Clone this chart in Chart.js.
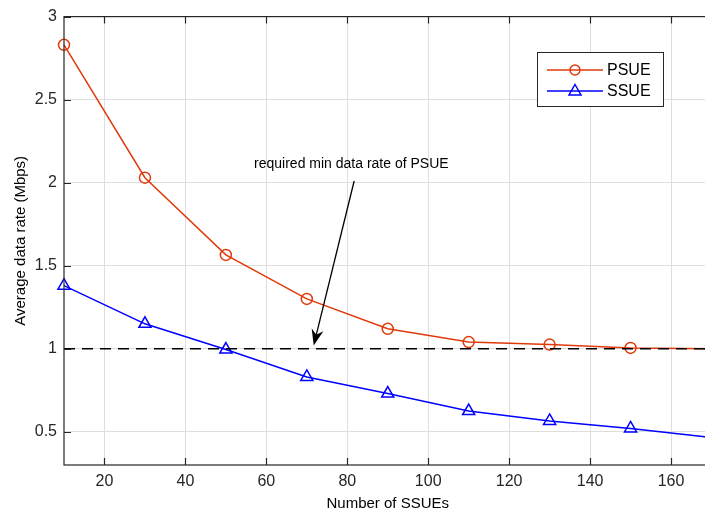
<!DOCTYPE html>
<html>
<head>
<meta charset="utf-8">
<script src="https://cdn.jsdelivr.net/npm/chart.js@4"></script>
<style>
  html, body { margin: 0; padding: 0; overflow: hidden; background: #fff; }
  #wrap { width: 720px; height: 518px; }
</style>
</head>
<body>
<div id="wrap"><canvas id="myChart" width="720" height="518"></canvas></div>
<script>
// data
var nSSUE = [10, 30, 50, 70, 90, 110, 130, 150, 170]
var psue = [2.83, 2.03, 1.565, 1.30, 1.12, 1.04, 1.025, 1.005, 1.0]
var ssue = [1.38, 1.15, 0.995, 0.83, 0.73, 0.625, 0.565, 0.52, 0.465]
var minRateX = [10, 170]
var minRate = [1, 1]
var xTicks = [20, 40, 60, 80, 100, 120, 140, 160]
var yTicks = [0.5, 1, 1.5, 2, 2.5, 3]

var font = 'Liberation Sans, Arial, sans-serif'

function pts(xs, ys) {
  var out = []
  for (let i = 0; i < xs.length; i++) out.push({ x: xs[i], y: ys[i] })
  return out
}

// the last point has no marker (curve leaves the picture)
function radii(n, r) {
  var a = []
  for (let i = 0; i < n; i++) a.push(i < n - 1 ? r : 0)
  return a
}

// frame, inward ticks, legend and the arrow note
var extras = {
  id: 'extras',
  afterDraw: function (chart) {
    var c = chart.ctx, a = chart.chartArea
    var xs = chart.scales.x, ys = chart.scales.y
    c.save()
    c.strokeStyle = '#262626'
    c.lineWidth = 1.2
    c.strokeRect(a.left, a.top, a.right - a.left, a.bottom - a.top)
    c.beginPath()
    xTicks.forEach(function (t) {
      var p = Math.round(xs.getPixelForValue(t)) + 0.5
      c.moveTo(p, a.bottom); c.lineTo(p, a.bottom - 7)
      c.moveTo(p, a.top); c.lineTo(p, a.top + 7)
    })
    yTicks.forEach(function (t) {
      var p = Math.round(ys.getPixelForValue(t)) + 0.5
      c.moveTo(a.left, p); c.lineTo(a.left + 7, p)
    })
    c.stroke()

    // legend box
    var lx = 537, ly = 52
    c.fillStyle = '#fff'
    c.fillRect(lx, ly, 126, 54)
    c.strokeStyle = '#262626'
    c.lineWidth = 1
    c.strokeRect(lx + 0.5, ly + 0.5, 126, 54)
    c.lineWidth = 1.5
    c.strokeStyle = '#e03a0a'
    c.beginPath(); c.moveTo(547, 70); c.lineTo(603, 70); c.stroke()
    c.beginPath(); c.arc(575, 70, 5, 0, Math.PI * 2); c.stroke()
    c.strokeStyle = '#0000ff'
    c.beginPath(); c.moveTo(547, 91); c.lineTo(603, 91); c.stroke()
    c.beginPath(); c.moveTo(575, 84.5); c.lineTo(581, 95); c.lineTo(569, 95); c.closePath(); c.stroke()
    c.fillStyle = '#000'
    c.font = '16px ' + font
    c.textBaseline = 'middle'
    c.textAlign = 'left'
    c.fillText('PSUE', 607, 71)
    c.fillText('SSUE', 607, 92)

    // note + arrow
    c.textAlign = 'center'
    c.font = '14px ' + font
    c.fillText('required min data rate of PSUE', xs.getPixelForValue(81), ys.getPixelForValue(2.11))
    var x0 = xs.getPixelForValue(81.7), y0 = ys.getPixelForValue(2.01)
    var x1 = xs.getPixelForValue(71.7), y1 = ys.getPixelForValue(1.02)
    var ang = Math.atan2(y1 - y0, x1 - x0)
    c.strokeStyle = '#000'
    c.lineWidth = 1.3
    c.beginPath(); c.moveTo(x0, y0); c.lineTo(x1 - 10 * Math.cos(ang), y1 - 10 * Math.sin(ang)); c.stroke()
    c.beginPath()
    c.moveTo(x1, y1)
    c.lineTo(x1 - 16 * Math.cos(ang) + 6 * Math.sin(ang), y1 - 16 * Math.sin(ang) - 6 * Math.cos(ang))
    c.lineTo(x1 - 11 * Math.cos(ang), y1 - 11 * Math.sin(ang))
    c.lineTo(x1 - 16 * Math.cos(ang) - 6 * Math.sin(ang), y1 - 16 * Math.sin(ang) + 6 * Math.cos(ang))
    c.closePath()
    c.fill()
    c.restore()
  }
}

var ctx = document.getElementById('myChart').getContext('2d')
var myChart = new Chart(ctx, {
  type: 'line',
  data: {
    datasets: [{
      label: 'min',
      data: pts(minRateX, minRate),
      borderColor: '#000',
      borderWidth: 1.6,
      borderDash: [11, 7],
      pointRadius: 0,
      order: 0
    }, {
      label: 'PSUE',
      data: pts(nSSUE, psue),
      borderColor: '#e03a0a',
      backgroundColor: 'rgba(0,0,0,0)',
      borderWidth: 1.5,
      pointStyle: 'circle',
      pointRadius: radii(nSSUE.length, 5.5),
      pointBorderWidth: 1.5,
      pointBackgroundColor: 'rgba(0,0,0,0)',
      clip: false,
      order: 1
    }, {
      label: 'SSUE',
      data: pts(nSSUE, ssue),
      borderColor: '#0000ff',
      backgroundColor: 'rgba(0,0,0,0)',
      borderWidth: 1.5,
      pointStyle: 'triangle',
      pointRadius: radii(nSSUE.length, 7),
      pointBorderWidth: 1.5,
      pointBackgroundColor: 'rgba(0,0,0,0)',
      clip: false,
      order: 2
    }]
  },
  options: {
    responsive: false,
    animation: false,
    tension: 0,
    layout: { padding: { top: 10, right: 7, left: 0, bottom: 0 } },
    plugins: { legend: { display: false }, tooltip: { enabled: false } },
    scales: {
      x: {
        type: 'linear',
        min: 10, max: 170,
        afterBuildTicks: function (s) { s.ticks = xTicks.map(function (v) { return { value: v } }) },
        afterFit: function (s) { s.height = 53 },
        grid: { color: '#dedede', lineWidth: 1, drawTicks: false },
        border: { display: false },
        ticks: { color: '#262626', padding: 7, font: { family: font, size: 16 }, maxRotation: 0 },
        title: { display: true, text: 'Number of SSUEs', color: '#000', font: { family: font, size: 15 }, padding: { top: 0, bottom: 5 } }
      },
      y: {
        min: 0.3, max: 3,
        afterBuildTicks: function (s) { s.ticks = yTicks.map(function (v) { return { value: v } }) },
        afterFit: function (s) { s.width = 64 },
        grid: { color: '#dedede', lineWidth: 1, drawTicks: false },
        border: { display: false },
        ticks: {
          color: '#262626', padding: 7, font: { family: font, size: 16 },
          callback: function (v) { return String(v) }
        },
        title: { display: true, text: 'Average data rate (Mbps)', color: '#000', font: { family: font, size: 15 }, padding: { top: 12, bottom: 0 } }
      }
    }
  },
  plugins: [extras]
})
</script>
</body>
</html>
